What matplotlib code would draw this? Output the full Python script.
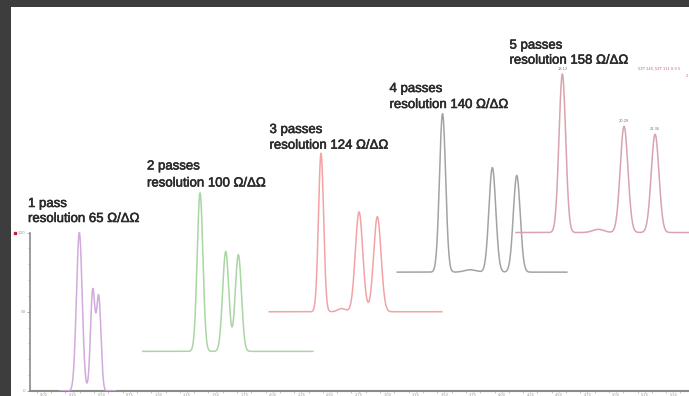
import numpy as np
import matplotlib
matplotlib.use("Agg")
import matplotlib.pyplot as plt
import matplotlib.patheffects as pe
from matplotlib.patches import Rectangle

# one entry per trace: 1 pass ... 5 passes
titles = ["1 pass", "2 passes", "3 passes", "4 passes", "5 passes"]
resolutions = [65, 100, 124, 140, 158]
colors = ["#d2aadb", "#a9d6a3", "#f2a3a5", "#a3a3a3", "#d9a3ad"]

# baseline offset of each trace (intensity units)
offsets = [0, 25, 50, 75, 100]
# x extent of each trace
x_start = [0.55, 3.45, 7.88, 12.35, 16.50]
x_end = [2.50, 9.40, 13.91, 18.28, 22.60]

# peaks: centre, height, width
peak_pos = [
    [1.234, 1.703, 1.913],
    [5.455, 6.353, 6.794],
    [9.685, 10.41, 11.014, 11.654],
    [13.934, 14.90, 15.675, 16.528],
    [18.122, 19.38, 20.28, 21.364],
]
peak_height = [
    [100, 63, 59],
    [100, 63, 61],
    [100, 2, 63, 60],
    [100, 1.5, 66, 61],
    [100, 2, 67, 62],
]
peak_sigma = [
    [0.1, 0.078, 0.078],
    [0.1, 0.108, 0.108],
    [0.09, 0.14, 0.13, 0.13],
    [0.107, 0.2, 0.12, 0.12],
    [0.117, 0.2, 0.135, 0.135],
]

peak5_labels = ["18.12", "20.28", "21.36"]
peak5_label_idx = [0, 2, 3]

xticks = list(range(0, 23))
yticks = [0, 50, 100]

W, H = 689, 396


def fx(px):
    return px / W


def fy(py):
    return 1 - py / H


fig = plt.figure(figsize=(W / 100, H / 100), dpi=100)
fig.patch.set_facecolor("#3d3d3d")
fig.patches.append(Rectangle((fx(11), 0), 1, fy(7), transform=fig.transFigure,
                             facecolor="white", edgecolor="none", zorder=-5))

ax = fig.add_axes([fx(30), 1 - 391 / H, (W - 30) / W, (391 - 7) / H])
ax.set_zorder(2)
ax.patch.set_alpha(0)
ax.set_xlim(-0.49, 22.55)
ax.set_ylim(0, 242.3)

for i in range(5):
    x = np.linspace(x_start[i], x_end[i], 1500)
    y = np.zeros_like(x)
    for c, h, s in zip(peak_pos[i], peak_height[i], peak_sigma[i]):
        y += h * np.exp(-0.5 * ((x - c) / s) ** 2)
    ax.plot(x, y + offsets[i], color=colors[i], lw=1.1, zorder=3 + i,
            solid_joinstyle="round")

# small peak labels on the last trace
for lab, k in zip(peak5_labels, peak5_label_idx):
    ax.text(peak_pos[4][k], offsets[4] + peak_height[4][k] + 2, lab,
            fontsize=2.6, color="#777777", ha="center", va="bottom")

for sp in ["top", "right"]:
    ax.spines[sp].set_visible(False)
ax.spines["left"].set_bounds(0, 100)
ax.spines["left"].set_color("#8a8a8a")
ax.spines["left"].set_linewidth(1.2)
ax.spines["bottom"].set_color("#8a8a8a")
ax.spines["bottom"].set_linewidth(1.5)

ax.set_yticks(yticks)
ax.set_yticklabels([str(v) for v in yticks])
ax.set_yticks(range(0, 101, 10), minor=True)
ax.set_xticks(xticks)
ax.set_xticklabels(["%.2f" % (t * 0.25) for t in xticks])
ax.set_xticks(np.arange(-0.25, 22.5, 0.5), minor=True)
ax.tick_params(axis="y", which="major", labelsize=3, colors="#9a9a9a",
               length=2, width=0.6, pad=1)
ax.tick_params(axis="x", which="major", labelsize=2.5, colors="#9a9a9a",
               length=1, width=0.6, pad=0.3)
ax.tick_params(axis="both", which="minor", length=1.2, width=0.5,
               colors="#b0b0b0")

# red marker at top of intensity axis
ax.plot([-0.023], [100], marker="s", ms=2, color="#c0203a",
        transform=ax.get_yaxis_transform(), clip_on=False)

# pass / resolution labels
bold = [pe.withStroke(linewidth=0.4, foreground="#2a2a2a")]
label_pos = [(28, 204, 219), (147, 166.5, 183.5), (269.5, 130, 145.7),
             (389.5, 89, 105), (509.5, 45.7, 60.7)]
for (px, py1, py2), t, r in zip(label_pos, titles, resolutions):
    fig.text(fx(px), fy(py1), t, fontsize=9.5, color="#2a2a2a",
             family="Liberation Sans", ha="left", va="center",
             path_effects=bold)
    fig.text(fx(px), fy(py2), "resolution %d \u03a9/\u0394\u03a9" % r,
             fontsize=9.5, color="#2a2a2a", family="Liberation Sans",
             ha="left", va="center", path_effects=bold)

fig.text(fx(638), fy(68), "5ZT 140_5ZT 111 0.9 5", fontsize=2.6,
         color="#d0607a", ha="left", va="center")
fig.text(fx(688), fy(76), "2", fontsize=2.6, color="#d0607a",
         ha="right", va="center")

fig.savefig("out.png", dpi=100, facecolor=fig.get_facecolor())
